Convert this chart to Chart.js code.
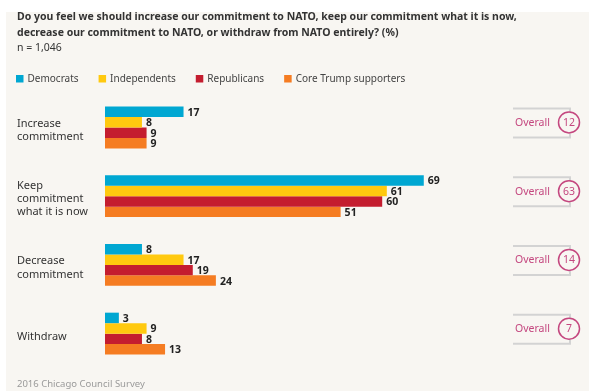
<!DOCTYPE html>
<html>
<head>
<meta charset="utf-8">
<script src="https://cdn.jsdelivr.net/npm/chart.js@4"></script>
<style>
  html, body { margin: 0; padding: 0; background: #fff; }
  #wrap { width: 589px; height: 391px; position: relative; }
</style>
</head>
<body>
<div id="wrap"><canvas id="nato" width="589" height="391"></canvas></div>
<script>
// answers, one group per category
var categories = [['Increase', 'commitment'], ['Keep', 'commitment', 'what it is now'], ['Decrease', 'commitment'], ['Withdraw']];
var democrats = [17, 69, 8, 3];
var independents = [8, 61, 17, 9];
var republicans = [9, 60, 19, 8];
var coreTrump = [9, 51, 24, 13];
var overall = [12, 63, 14, 7];

var FONT = "'Noto Sans', sans-serif";
var BG = '#f8f6f2';
var PINK = '#c4477f';

// background panel, legend row, footer
var panelPlugin = {
    id: 'panel',
    beforeDraw: function(chart) {
        var c = chart.ctx;
        c.save();
        c.fillStyle = BG;
        c.fillRect(6, 12, chart.width - 6, chart.height - 12);
        c.restore();
    },
    afterDraw: function(chart) {
        var c = chart.ctx;
        c.save();
        // legend, spaced like the original
        c.font = '10px ' + FONT;
        c.textBaseline = 'middle';
        var x = 16, y = 79;
        chart.data.datasets.forEach(function(ds) {
            c.fillStyle = ds.backgroundColor;
            c.fillRect(x, y - 4, 7.5, 7.5);
            c.fillStyle = '#444';
            c.fillText(ds.label, x + 11.5, y);
            x += 11.5 + c.measureText(ds.label).width + 20;
        });
        c.fillStyle = '#9a9a9a';
        c.font = '9.5px ' + FONT;
        c.fillText('2016 Chicago Council Survey', 17, 384);
        c.restore();
    }
};

// value labels at the end of each bar
var valuesPlugin = {
    id: 'values',
    afterDatasetsDraw: function(chart) {
        var c = chart.ctx;
        c.save();
        c.font = 'bold 10.5px ' + FONT;
        c.fillStyle = '#222';
        c.textBaseline = 'middle';
        chart.data.datasets.forEach(function(ds, i) {
            chart.getDatasetMeta(i).data.forEach(function(bar, j) {
                c.fillText(ds.data[j], bar.x + 4, bar.y + 1);
            });
        });
        c.restore();
    }
};

// "Overall" brackets on the right
var overallPlugin = {
    id: 'overall',
    afterDraw: function(chart) {
        var c = chart.ctx;
        var yScale = chart.scales.y;
        c.save();
        overall.forEach(function(v, i) {
            var y = yScale.getPixelForValue(i) - 5;
            var cx = 569;
            c.strokeStyle = '#d3d3d3';
            c.lineWidth = 2;
            c.beginPath();
            c.moveTo(513, y - 14); c.lineTo(570, y - 14); c.lineTo(570, y - 10);
            c.moveTo(513, y + 15); c.lineTo(570, y + 15); c.lineTo(570, y + 11);
            c.stroke();
            c.fillStyle = BG;
            c.strokeStyle = PINK;
            c.lineWidth = 1.5;
            c.beginPath();
            c.arc(cx, y, 10.5, 0, Math.PI * 2);
            c.fill();
            c.stroke();
            c.fillStyle = PINK;
            c.font = '10.5px ' + FONT;
            c.textBaseline = 'middle';
            c.textAlign = 'center';
            c.fillText(v, cx, y + 0.5);
            c.textAlign = 'left';
            c.fillText('Overall', 515, y + 0.5);
        });
        c.restore();
    }
};

var ctx = document.getElementById('nato').getContext('2d');
var chart = new Chart(ctx, {
    type: 'bar',
    data: {
        labels: categories,
        datasets: [
            { label: 'Democrats', data: democrats, backgroundColor: '#00a7d2' },
            { label: 'Independents', data: independents, backgroundColor: '#ffc90f' },
            { label: 'Republicans', data: republicans, backgroundColor: '#c41d2f' },
            { label: 'Core Trump supporters', data: coreTrump, backgroundColor: '#f57c22' }
        ]
    },
    options: {
        indexAxis: 'y',
        responsive: false,
        animation: false,
        devicePixelRatio: 1,
        datasets: {
            bar: { categoryPercentage: 0.61, barPercentage: 1.0, borderWidth: 0 }
        },
        layout: { padding: { left: 17, right: 22, top: 10, bottom: 23 } },
        scales: {
            x: { display: false, min: 0, max: 100 },
            y: {
                grid: { display: false },
                border: { display: false },
                ticks: {
                    color: '#333',
                    font: { family: FONT, size: 11 },
                    crossAlign: 'far',
                    padding: 0,
                    labelOffset: 3
                },
                afterFit: function(scale) { scale.width = 88; }
            }
        },
        plugins: {
            title: {
                display: true,
                align: 'start',
                text: ['Do you feel we should increase our commitment to NATO, keep our commitment what it is now,',
                       'decrease our commitment to NATO, or withdraw from NATO entirely? (%)'],
                color: '#333',
                font: { family: FONT, size: 10.5, weight: 'bold', lineHeight: 1.43 },
                padding: { top: 0, bottom: 0 }
            },
            subtitle: {
                display: true,
                align: 'start',
                text: 'n = 1,046',
                color: '#333',
                font: { family: FONT, size: 10.5, lineHeight: 1.43 },
                padding: { top: 0, bottom: 38 }
            },
            legend: { display: false },
            tooltip: { enabled: false }
        }
    },
    plugins: [panelPlugin, valuesPlugin, overallPlugin]
});
</script>
</body>
</html>
